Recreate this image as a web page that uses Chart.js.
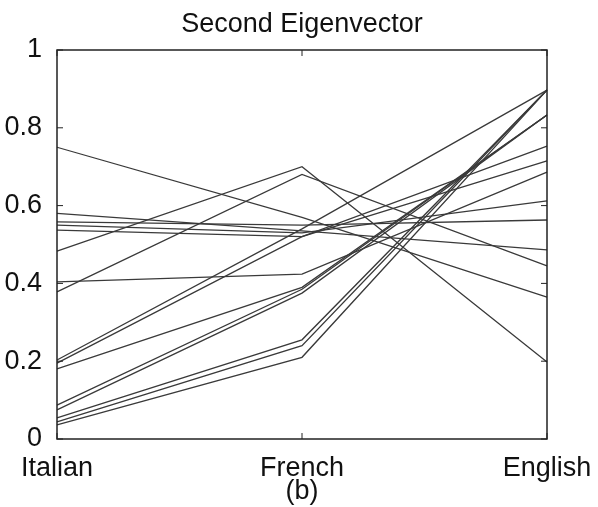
<!DOCTYPE html>
<html>
<head>
<meta charset="utf-8">
<script src="https://cdn.jsdelivr.net/npm/chart.js@4.4.1/dist/chart.umd.min.js"></script>
<style>
  html, body { margin: 0; padding: 0; background: #fff; }
  #wrap { width: 598px; height: 507px; }
</style>
</head>
<body>
<div id="wrap"><canvas id="c" width="598" height="507"></canvas></div>
<script>
// Languages along the x axis
const languages = ['Italian', 'French', 'English'];

// Second-eigenvector component of each item, one entry per line
const italian = [0.75, 0.483, 0.378, 0.404, 0.58, 0.558, 0.55, 0.537, 0.203, 0.195, 0.18, 0.087, 0.075, 0.054, 0.044, 0.036];
const french  = [0.57, 0.70, 0.68, 0.424, 0.535, 0.55, 0.53, 0.52, 0.54, 0.52, 0.39, 0.385, 0.375, 0.255, 0.24, 0.21];
const english = [0.365, 0.198, 0.445, 0.686, 0.486, 0.563, 0.612, 0.753, 0.897, 0.715, 0.833, 0.833, 0.833, 0.897, 0.897, 0.897];

const yTicks = [0, 0.2, 0.4, 0.6, 0.8, 1];

const FONT = "'Liberation Sans', Arial, Helvetica, sans-serif";
const FONT_SIZE = 27;

const datasets = italian.map((v, i) => ({
  data: [v, french[i], english[i]],
  borderColor: '#3a3a3a',
  borderWidth: 1.3,
  pointRadius: 0,
  fill: false,
  tension: 0
}));

// Box around the plot with inward-pointing tick marks
const boxPlugin = {
  id: 'box',
  afterDatasetsDraw(chart) {
    const { ctx, chartArea: a, scales } = chart;
    const len = 6;
    ctx.save();
    ctx.strokeStyle = '#222';
    ctx.lineWidth = 1.5;
    ctx.strokeRect(a.left, a.top, a.right - a.left, a.bottom - a.top);
    ctx.lineWidth = 1;
    ctx.beginPath();
    yTicks.forEach(t => {
      const y = scales.y.getPixelForValue(t);
      ctx.moveTo(a.left, y); ctx.lineTo(a.left + len, y);
      ctx.moveTo(a.right, y); ctx.lineTo(a.right - len, y);
    });
    languages.forEach((_, i) => {
      const x = scales.x.getPixelForValue(i);
      ctx.moveTo(x, a.bottom); ctx.lineTo(x, a.bottom - len);
      ctx.moveTo(x, a.top); ctx.lineTo(x, a.top + len);
    });
    ctx.stroke();
    ctx.restore();
  }
};

new Chart(document.getElementById('c'), {
  type: 'line',
  data: { labels: languages, datasets },
  options: {
    responsive: false,
    animation: false,
    layout: { padding: { left: 0, right: 51, top: 0, bottom: 2 } },
    plugins: {
      legend: { display: false },
      tooltip: { enabled: false },
      title: {
        display: true,
        fullSize: false,
        text: 'Second Eigenvector',
        color: '#111',
        font: { family: FONT, size: FONT_SIZE, weight: 'normal', lineHeight: 1 },
        padding: { top: 11, bottom: 12 }
      }
    },
    scales: {
      x: {
        type: 'category',
        offset: false,
        grid: { display: false },
        border: { display: false },
        afterFit(scale) {
          scale.height = 66;
          scale.paddingLeft = 0;
          scale.paddingRight = 0;
        },
        ticks: {
          color: '#111',
          font: { family: FONT, size: FONT_SIZE, lineHeight: 1 },
          maxRotation: 0,
          autoSkip: false,
          padding: 8
        },
        title: {
          display: true,
          text: '(b)',
          color: '#111',
          font: { family: FONT, size: FONT_SIZE, lineHeight: 1 },
          padding: { top: 0, bottom: 0 }
        }
      },
      y: {
        min: 0,
        max: 1,
        grid: { display: false },
        border: { display: false },
        afterFit(scale) { scale.width = 57; },
        afterBuildTicks(scale) { scale.ticks = yTicks.map(v => ({ value: v })); },
        ticks: {
          color: '#111',
          font: { family: FONT, size: FONT_SIZE },
          padding: 7,
          callback: v => String(Math.round(v * 10) / 10)
        }
      }
    }
  },
  plugins: [boxPlugin]
});
</script>
</body>
</html>
